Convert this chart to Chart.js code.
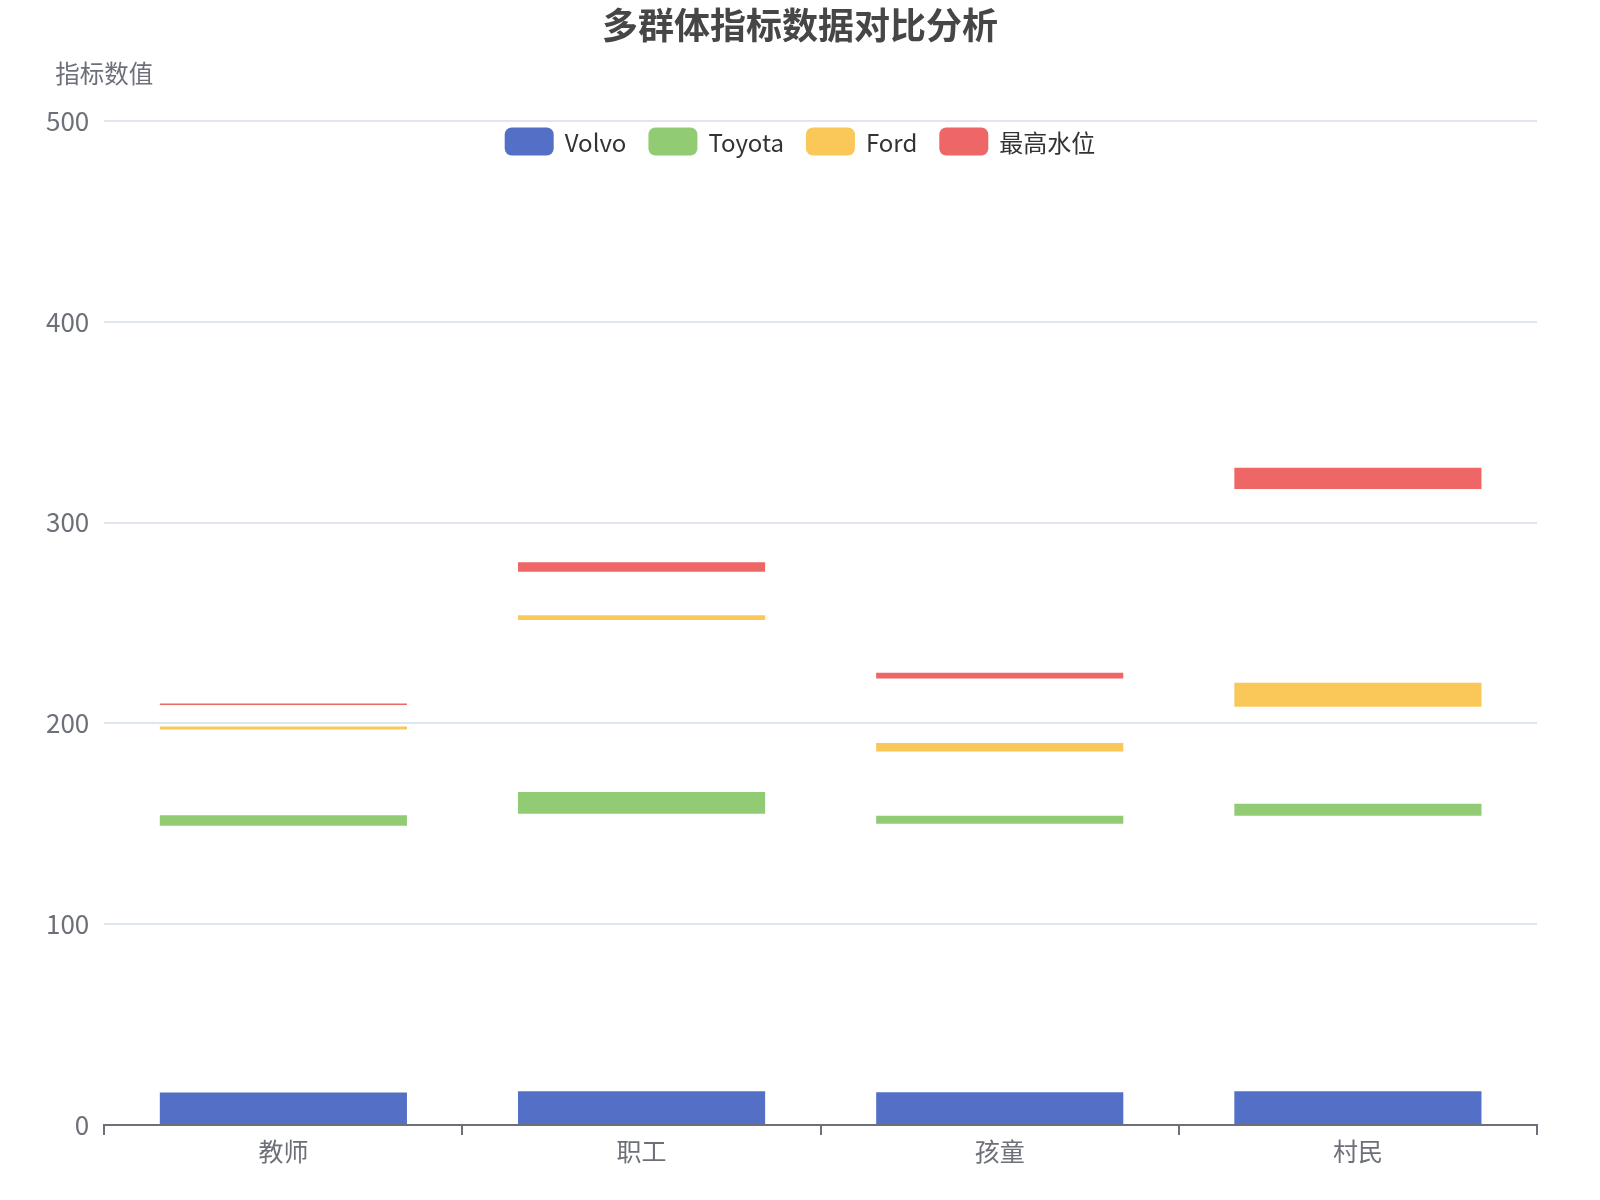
<!DOCTYPE html>
<html>
<head>
<meta charset="utf-8">
<script src="https://cdn.jsdelivr.net/npm/chart.js@4.4.1/dist/chart.umd.min.js"></script>
<style>
  html, body { margin: 0; padding: 0; background: #ffffff; }
  #wrap { width: 1600px; height: 1200px; position: relative; }
</style>
</head>
<body>
<div id="wrap"><canvas id="c"></canvas></div>
<script>
// ---- Data ----
const categories = ['教师', '职工', '孩童', '村民'];
const seriesNames = ['Volvo', 'Toyota', 'Ford', '最高水位'];
const volvoRange = [[0, 16.2], [0, 16.8], [0, 16.3], [0, 16.8]];
const toyotaRange = [[149, 154.3], [155, 165.8], [150, 154], [154, 160]];
const fordRange = [[197, 198.5], [251.5, 253.8], [186, 190.3], [208.3, 220.3]];
const maxLevelRange = [[209.2, 209.9], [275.5, 280.2], [222.3, 225.2], [316.7, 327.3]];
const yTicks = [0, 100, 200, 300, 400, 500];
const titleText = '多群体指标数据对比分析';
const yAxisName = '指标数值';

const colors = ['#5470C6', '#91CC75', '#FAC858', '#EE6666'];
const FONT = "'Noto Sans CJK SC', 'Noto Sans', sans-serif";
Chart.defaults.font.family = FONT;

const seriesData = [volvoRange, toyotaRange, fordRange, maxLevelRange];

const overlayPlugin = {
  id: 'overlayText',
  afterDraw(chart) {
    const ctx = chart.ctx;
    const area = chart.chartArea;
    ctx.save();
    // title, centred on the canvas
    ctx.font = 'bold 36px ' + FONT;
    ctx.fillStyle = '#464646';
    ctx.textAlign = 'center';
    ctx.textBaseline = 'middle';
    ctx.fillText(titleText, chart.width / 2, 25);
    // legend
    ctx.font = '24px ' + FONT;
    const boxW = 49, boxH = 28, textGap = 11, itemGap = 22;
    const items = chart.data.datasets.map(d => ({ label: d.label, color: d.backgroundColor, w: ctx.measureText(d.label).width }));
    let total = 0;
    items.forEach((it, i) => { total += boxW + textGap + it.w + (i < items.length - 1 ? itemGap : 0); });
    let x = chart.width / 2 - total / 2;
    const cy = area.top + 20.5;
    items.forEach(it => {
      ctx.fillStyle = it.color;
      ctx.beginPath();
      ctx.roundRect(x, cy - boxH / 2, boxW, boxH, 7);
      ctx.fill();
      x += boxW + textGap;
      ctx.fillStyle = '#333333';
      ctx.textAlign = 'left';
      ctx.textBaseline = 'middle';
      ctx.fillText(it.label, x, cy + 1);
      x += it.w + itemGap;
    });
    // y axis name
    ctx.font = '24.5px ' + FONT;
    ctx.fillStyle = '#6E7079';
    ctx.textAlign = 'center';
    ctx.textBaseline = 'middle';
    ctx.fillText(yAxisName, area.left, area.top - 47);
    ctx.restore();
  }
};

new Chart(document.getElementById('c'), {
  type: 'bar',
  data: {
    labels: categories,
    datasets: seriesNames.map((name, i) => ({
      label: name,
      data: seriesData[i],
      backgroundColor: colors[i],
      borderWidth: 0,
      grouped: false,
      barPercentage: 0.69,
      categoryPercentage: 1
    }))
  },
  options: {
    responsive: true,
    maintainAspectRatio: false,
    animation: false,
    layout: { padding: { left: 31, right: 63, top: 121, bottom: 33 } },
    plugins: {
      legend: { display: false },
      tooltip: { enabled: false },
      title: { display: false }
    },
    scales: {
      x: {
        offset: true,
        grid: { display: true, drawOnChartArea: false, drawTicks: true, tickLength: 10, color: '#6E7079', lineWidth: 2, offset: true },
        border: { display: true, color: '#6E7079', width: 2 },
        ticks: { color: '#6E7079', font: { size: 25 }, padding: 1 }
      },
      y: {
        min: 0,
        max: 500,
        afterBuildTicks(scale) { scale.ticks = yTicks.map(v => ({ value: v })); },
        grid: { color: '#E0E6F1', lineWidth: 2, drawTicks: false },
        border: { display: false },
        ticks: { color: '#6E7079', font: { size: 26 }, padding: 15 }
      }
    }
  },
  plugins: [overlayPlugin]
});
</script>
</body>
</html>
